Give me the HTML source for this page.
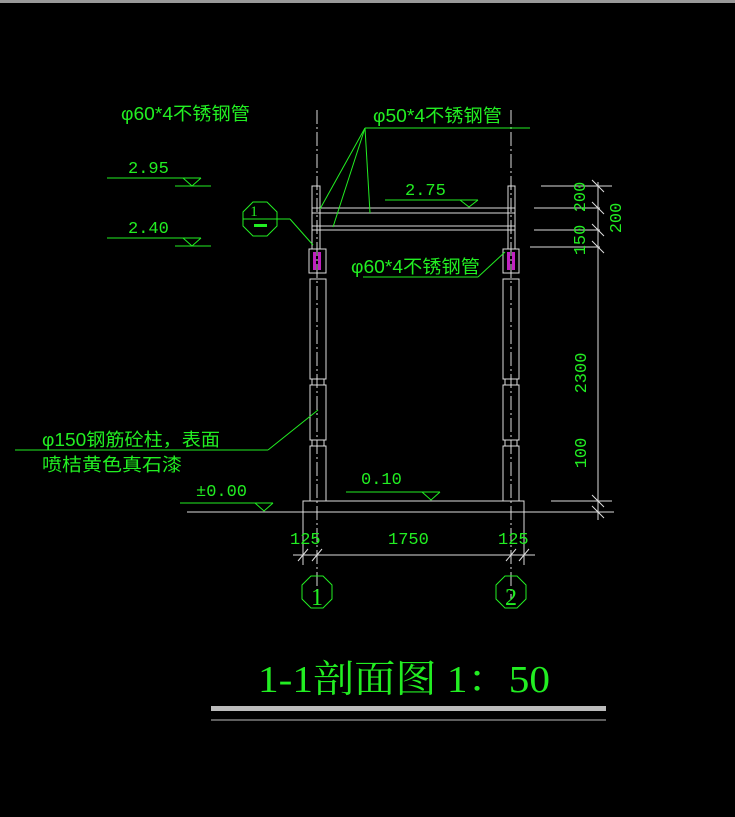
<!DOCTYPE html>
<html><head><meta charset="utf-8"><style>
html,body{margin:0;padding:0;background:#000;}
svg{display:block}
text{font-family:"Liberation Sans","Noto Sans CJK SC",sans-serif;fill:#22ee22;}
.s{font-family:"Liberation Serif","Noto Serif CJK SC",serif;}
.m{font-family:"Liberation Mono","Noto Sans CJK SC",monospace;}
</style></head><body>
<svg width="735" height="817" viewBox="0 0 735 817" xmlns="http://www.w3.org/2000/svg">
<rect width="735" height="817" fill="#000"/>
<rect x="0" y="0" width="735" height="3" fill="#999"/>
<g stroke="#ddd" stroke-width="1" fill="none">
<line x1="317" y1="110" x2="317" y2="600" stroke-dasharray="14,3,2,3"/>
<line x1="511" y1="110" x2="511" y2="600" stroke-dasharray="14,3,2,3"/>
<line x1="187" y1="512" x2="614" y2="512"/>
<rect x="303" y="501" width="221" height="11"/>
<rect x="312" y="186" width="8" height="63"/>
<rect x="508" y="186" width="7" height="63"/>
<line x1="312" y1="208" x2="515" y2="208"/><line x1="312" y1="213" x2="515" y2="213"/>
<line x1="312" y1="226" x2="515" y2="226"/><line x1="312" y1="230" x2="515" y2="230"/>
<rect x="309" y="249" width="17" height="24"/><rect x="503" y="249" width="16" height="24"/>
<rect x="310" y="279" width="16" height="100"/><rect x="312" y="379" width="12" height="6"/>
<rect x="310" y="385" width="16" height="55"/><rect x="312" y="440" width="12" height="6"/>
<rect x="310" y="446" width="16" height="55"/>
<rect x="503" y="279" width="16" height="100"/><rect x="505" y="379" width="12" height="6"/>
<rect x="503" y="385" width="16" height="55"/><rect x="505" y="440" width="12" height="6"/>
<rect x="503" y="446" width="16" height="55"/>
<line x1="541" y1="186" x2="612" y2="186"/>
<line x1="534" y1="208" x2="600" y2="208"/>
<line x1="534" y1="230" x2="600" y2="230"/>
<line x1="530" y1="247" x2="600" y2="247"/>
<line x1="551" y1="501" x2="612" y2="501"/>
<line x1="598" y1="182" x2="598" y2="520"/>
<line x1="592" y1="180" x2="604" y2="192"/><line x1="592" y1="202" x2="604" y2="214"/>
<line x1="592" y1="224" x2="604" y2="236"/><line x1="592" y1="241" x2="604" y2="253"/>
<line x1="592" y1="495" x2="604" y2="507"/><line x1="592" y1="506" x2="604" y2="518"/>
<line x1="293" y1="555" x2="535" y2="555"/>
<line x1="303" y1="512" x2="303" y2="565"/><line x1="524" y1="512" x2="524" y2="565"/>
<line x1="298" y1="561" x2="308" y2="549"/><line x1="312" y1="561" x2="322" y2="549"/>
<line x1="506" y1="561" x2="516" y2="549"/><line x1="519" y1="561" x2="529" y2="549"/>
<rect x="211" y="706" width="395" height="5" fill="#bbb" stroke="none"/>
<line x1="211" y1="720" x2="606" y2="720" stroke="#bbb"/>
</g>
<g fill="#c020c0"><rect x="313" y="252" width="3" height="18"/><rect x="318" y="252" width="3" height="18"/>
<rect x="507" y="252" width="3" height="18"/><rect x="512" y="252" width="3" height="18"/></g>
<g stroke="#22ee22" stroke-width="1" fill="none">
<line x1="107" y1="178" x2="201" y2="178"/><polyline points="183,178 192,186 201,178"/><line x1="175" y1="186" x2="211" y2="186"/>
<line x1="107" y1="238" x2="201" y2="238"/><polyline points="183,238 192,246 201,238"/><line x1="175" y1="246" x2="211" y2="246"/>
<line x1="385" y1="200" x2="478" y2="200"/><polyline points="460,200 469,207 478,200"/>
<line x1="365" y1="128" x2="530" y2="128"/>
<line x1="365" y1="128" x2="320" y2="209"/><line x1="365" y1="128" x2="333" y2="227"/><line x1="365" y1="128" x2="370" y2="213"/>
<polygon points="253,202 267,202 277,212 277,226 267,236 253,236 243,226 243,212"/>
<line x1="243" y1="219" x2="290" y2="219"/><line x1="290" y1="219" x2="313" y2="245"/>
<line x1="363" y1="277" x2="478" y2="277"/><line x1="478" y1="277" x2="505" y2="252"/>
<line x1="15" y1="450" x2="268" y2="450"/><line x1="268" y1="450" x2="318" y2="410"/>
<line x1="180" y1="503" x2="273" y2="503"/><polyline points="255,503 264,511 273,503"/>
<line x1="346" y1="492" x2="440" y2="492"/><polyline points="422,492 431,500 440,492"/>
<polygon points="311,576 323,576 332,585 332,599 323,608 311,608 302,599 302,585"/>
<polygon points="505,576 517,576 526,585 526,599 517,608 505,608 496,599 496,585"/>
</g>
<rect x="254" y="224" width="13" height="3" fill="#22ee22"/>
<text x="121" y="120" font-size="18" textLength="129" lengthAdjust="spacingAndGlyphs">φ60*4不锈钢管</text>
<text x="373" y="122" font-size="18" textLength="129" lengthAdjust="spacingAndGlyphs">φ50*4不锈钢管</text>
<text x="351" y="273" font-size="18" textLength="129" lengthAdjust="spacingAndGlyphs">φ60*4不锈钢管</text>
<text x="128" y="173" font-size="17" class="m">2.95</text>
<text x="128" y="233" font-size="17" class="m">2.40</text>
<text x="405" y="195" font-size="17" class="m">2.75</text>
<text x="361" y="484" font-size="17" class="m">0.10</text>
<text x="196" y="496" font-size="17" class="m">±0.00</text>
<text x="42" y="446" font-size="18" textLength="178" lengthAdjust="spacingAndGlyphs">φ150钢筋砼柱，表面</text>
<text x="42" y="471" font-size="18" textLength="140" lengthAdjust="spacingAndGlyphs">喷桔黄色真石漆</text>
<text x="254" y="216" font-size="15" class="s" text-anchor="middle">1</text>
<text x="317" y="605" font-size="24" class="s" text-anchor="middle">1</text>
<text x="511" y="605" font-size="24" class="s" text-anchor="middle">2</text>
<text x="290" y="544" font-size="17" class="m">125</text>
<text x="388" y="544" font-size="17" class="m">1750</text>
<text x="498" y="544" font-size="17" class="m">125</text>
<text transform="translate(585,197) rotate(-90)" text-anchor="middle" font-size="17" class="m">200</text>
<text transform="translate(585,240) rotate(-90)" text-anchor="middle" font-size="17" class="m">150</text>
<text transform="translate(621,218) rotate(-90)" text-anchor="middle" font-size="17" class="m">200</text>
<text transform="translate(586,373) rotate(-90)" text-anchor="middle" font-size="17" class="m">2300</text>
<text transform="translate(586,453) rotate(-90)" text-anchor="middle" font-size="17" class="m">100</text>
<text x="258" y="692" font-size="38" class="s" textLength="292" lengthAdjust="spacingAndGlyphs">1-1剖面图 1：50</text>
</svg>
</body></html>
